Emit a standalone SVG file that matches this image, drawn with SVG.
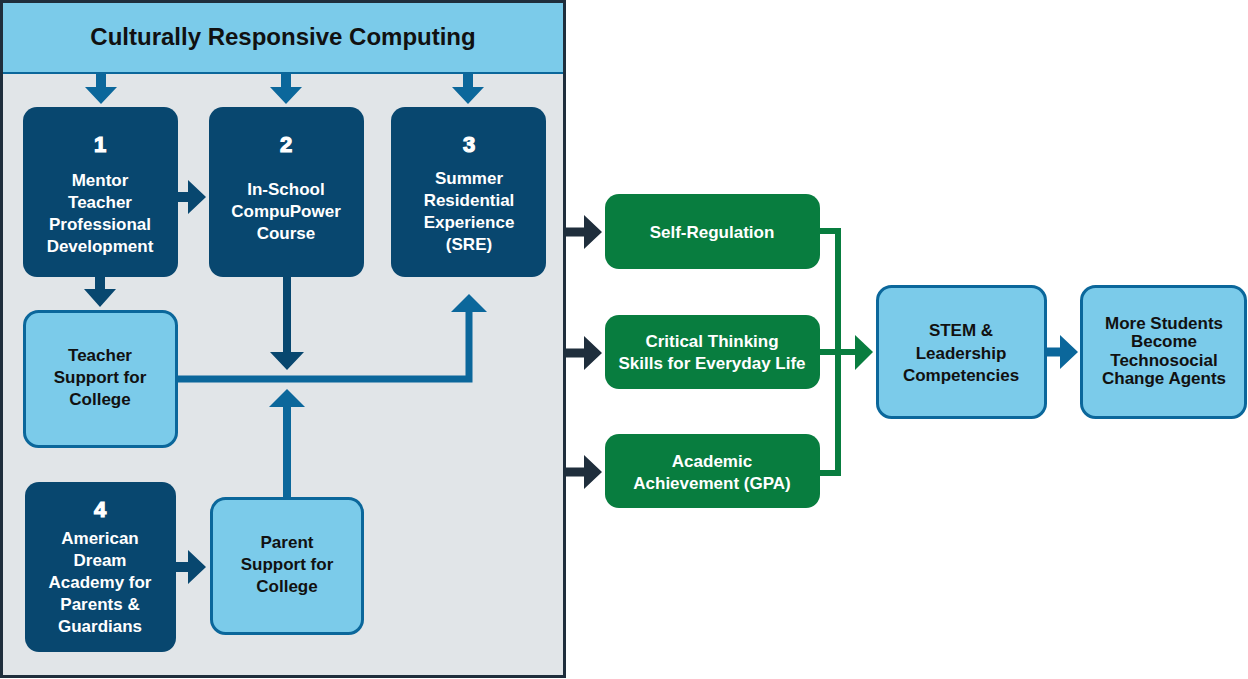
<svg xmlns="http://www.w3.org/2000/svg" width="1248" height="679" viewBox="0 0 1248 679">
<style>
text{font-family:"Liberation Sans",Arial,sans-serif;font-weight:bold;text-anchor:middle}
.w{fill:#ffffff;font-size:17px}
.num{fill:#ffffff;stroke:#ffffff;stroke-width:1.2;font-size:22px;font-weight:900}
.k{fill:#111111;font-size:17px}
.dark{fill:#08476f}
.light{fill:#7bcbea;stroke:#0b679b;stroke-width:3}
.green{fill:#087d3f}
.ad{fill:#08476f}
.ab{fill:#0b679b}
.ax{fill:#1f2e3c}
.ag{fill:none;stroke:#087d3f;stroke-width:6}
</style>
<rect width="1248" height="679" fill="#ffffff"/>
<g id="panel">
<rect x="1.5" y="1.5" width="563" height="675" fill="#e1e5e8" stroke="#1f2e3c" stroke-width="3"/>
<rect x="3" y="3" width="560" height="70" fill="#7bcbea"/>
<line x1="3" y1="73" x2="563" y2="73" stroke="#0b679b" stroke-width="2"/>
<text x="283" y="45" style="font-size:24px;fill:#111111">Culturally Responsive Computing</text>
</g>
<g id="connectors">
<path class="ab" d="M96 74 H106 V87 H117 L101 104 L85 87 H96 Z"/>
<path class="ab" d="M281 74 H291 V87 H302 L286 104 L270 87 H281 Z"/>
<path class="ab" d="M463 74 H473 V87 H484 L468 104 L452 87 H463 Z"/>
<path class="ad" d="M95 277 H105 V289 H116 L100 307 L84 289 H95 Z"/>
<path class="ad" d="M178 192 H188 V180 L206 197 L188 214 V202 H178 Z"/>
<path class="ad" d="M283 277 H291 V352 H304 L287 370 L270 352 H283 Z"/>
<path class="ab" d="M178 375.5 H465.5 V312 H451 L469 294 L487 312 H472.5 V382.5 H178 Z"/>
<path class="ab" d="M283 497 V407 H269 L287 389 L305 407 H291 V497 Z"/>
<path class="ad" d="M176 562 H188 V550 L206 567 L188 584 V572 H176 Z"/>
<path class="ax" d="M565 227.5 H584 V215 L602 232 L584 249 V236.5 H565 Z"/>
<path class="ax" d="M565 348.5 H584 V336 L602 353 L584 370 V357.5 H565 Z"/>
<path class="ax" d="M565 467.5 H584 V455 L602 472 L584 489 V476.5 H565 Z"/>
<path class="ag" d="M820 231 H838 V473 H820"/>
<path class="ag" d="M820 352 H857"/>
<path fill="#087d3f" d="M855 335 L873 352 L855 370 Z"/>
<path class="ab" d="M1047 347.5 H1060 V335 L1078 352 L1060 369 V356.5 H1047 Z"/>
</g>
<g id="n1">
<rect class="dark" x="23" y="107" width="155" height="170" rx="14"/>
<text class="num" x="100" y="152">1</text>
<text class="w" x="100" y="186">Mentor</text>
<text class="w" x="100" y="208">Teacher</text>
<text class="w" x="100" y="230">Professional</text>
<text class="w" x="100" y="252">Development</text>
</g>
<g id="n2">
<rect class="dark" x="209" y="107" width="155" height="170" rx="14"/>
<text class="num" x="286" y="152">2</text>
<text class="w" x="286" y="195">In-School</text>
<text class="w" x="286" y="217">CompuPower</text>
<text class="w" x="286" y="239">Course</text>
</g>
<g id="n3">
<rect class="dark" x="391" y="107" width="155" height="170" rx="14"/>
<text class="num" x="469" y="152">3</text>
<text class="w" x="469" y="184">Summer</text>
<text class="w" x="469" y="206">Residential</text>
<text class="w" x="469" y="228">Experience</text>
<text class="w" x="469" y="250">(SRE)</text>
</g>
<g id="teacher-support">
<rect class="light" x="24.5" y="311.5" width="152" height="135" rx="14"/>
<text class="k" x="100" y="361">Teacher</text>
<text class="k" x="100" y="383">Support for</text>
<text class="k" x="100" y="405">College</text>
</g>
<g id="n4">
<rect class="dark" x="25" y="482" width="151" height="170" rx="14"/>
<text class="num" x="100" y="517">4</text>
<text class="w" x="100" y="544">American</text>
<text class="w" x="100" y="566">Dream</text>
<text class="w" x="100" y="588">Academy for</text>
<text class="w" x="100" y="610">Parents &amp;</text>
<text class="w" x="100" y="632">Guardians</text>
</g>
<g id="parent-support">
<rect class="light" x="211.5" y="498.5" width="151" height="135" rx="14"/>
<text class="k" x="287" y="548">Parent</text>
<text class="k" x="287" y="570">Support for</text>
<text class="k" x="287" y="592">College</text>
</g>
<g id="self-regulation">
<rect class="green" x="605" y="194" width="215" height="75" rx="14"/>
<text class="w" x="712" y="238">Self-Regulation</text>
</g>
<g id="critical-thinking">
<rect class="green" x="605" y="315" width="215" height="74" rx="14"/>
<text class="w" x="712" y="347">Critical Thinking</text>
<text class="w" x="712" y="369">Skills for Everyday Life</text>
</g>
<g id="academic">
<rect class="green" x="605" y="434" width="215" height="74" rx="14"/>
<text class="w" x="712" y="467">Academic</text>
<text class="w" x="712" y="489">Achievement (GPA)</text>
</g>
<g id="stem">
<rect class="light" x="877.5" y="286.5" width="168" height="131" rx="14"/>
<text class="k" x="961" y="336">STEM &amp;</text>
<text class="k" x="961" y="359">Leadership</text>
<text class="k" x="961" y="381">Competencies</text>
</g>
<g id="change-agents">
<rect class="light" x="1081.5" y="286.5" width="164" height="131" rx="14"/>
<text class="k" x="1164" y="329">More Students</text>
<text class="k" x="1164" y="347">Become</text>
<text class="k" x="1164" y="366">Technosocial</text>
<text class="k" x="1164" y="384">Change Agents</text>
</g>
</svg>
